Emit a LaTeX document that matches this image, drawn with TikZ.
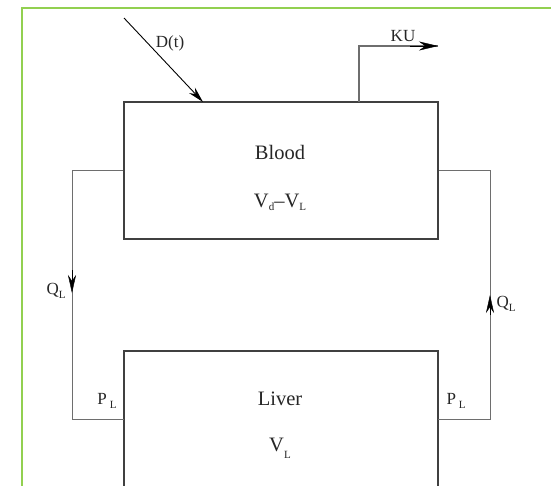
\documentclass[tikz,border=0pt]{standalone}
\usepackage{fontspec}
\setmainfont{Liberation Serif}
\usetikzlibrary{arrows.meta}
\newcommand\lowsub[2][0.5ex]{\raisebox{-#1}{\fontsize{11}{11}\selectfont #2}}
\definecolor{framegreen}{RGB}{146,208,80}
\definecolor{boxgray}{RGB}{64,64,64}
\definecolor{linegray}{RGB}{110,110,110}
\tikzset{
  compbox/.style={draw=boxgray, line width=1.5pt, rectangle, inner sep=0pt},
  boxtext/.style={font=\fontsize{20.5}{24}\selectfont, inner sep=0pt, text=black!85},
  lbl/.style={font=\fontsize{17}{20}\selectfont, inner sep=0pt, text=black!85},
  flow/.style={draw=linegray, line width=1pt},
  tip/.style={-{Stealth[length=17pt,width=8pt]}},
}
\begin{document}
\begin{tikzpicture}[x=1pt,y=-1pt]
\useasboundingbox (0,0) rectangle (551,485);
\clip (0,0) rectangle (551,485);
\fill[white] (0,0) rectangle (551,485);
\draw[framegreen, line width=2pt] (22,486) -- (22,8) -- (552,8);

% compartments
\node[compbox, minimum width=314pt, minimum height=137pt] (blood) at (281,170.5) {};
\node[compbox, minimum width=314pt, minimum height=200pt, anchor=north] (liver) at (281,350) {};

\node[boxtext] (bloodname) at (280,152) {Blood};
\node[boxtext] (bloodvol) at (280,202) {V\lowsub[0.3ex]{d}--V\lowsub[0.3ex]{L}};
\node[boxtext] (livername) at (280,399) {Liver};
\node[boxtext] (livervol) at (280,448) {V\lowsub[0.7ex]{L}};

% dose input
\coordinate (dstart) at (124,18);
\coordinate (dend) at (203,102);
\draw[black, line width=0.9pt, -{Stealth[length=16pt,width=8pt]}] (dstart) -- (dend);
\node[lbl] (dlbl) at (170,43) {D(t)};

% elimination
\coordinate (kustart) at (359,102);
\coordinate (kucorner) at (359,46);
\coordinate (kuend) at (438,46);
\draw[linegray, line width=1.3pt] (kustart) -- (kucorner) -- (kuend);
\draw[black, -{Stealth[length=19pt,width=9pt]}] (410,46) -- (kuend);
\node[lbl] (kulbl) at (403,36) {KU};

% left loop (blood -> liver)
\coordinate (lcorner1) at (72,170.5);
\coordinate (larrow) at (72,293);
\coordinate (lcorner2) at (72,419);
\coordinate (lend) at (124,419);
\draw[flow] (blood.west) -- (lcorner1) -- (lcorner2) -- (lend);
\draw[black, -{Stealth[length=18pt,width=8pt]}] (72,270) -- (larrow);
\node[lbl] (qlleft) at (56,291) {Q\lowsub[0.6ex]{L}};
\node[lbl] (plleft) at (107,401) {P\,\lowsub[0.6ex]{L}};

% right loop (liver -> blood)
\coordinate (rcorner1) at (490,170.5);
\coordinate (rarrow) at (490,295);
\coordinate (rcorner2) at (490,419);
\coordinate (rstart) at (438,419);
\draw[flow] (rstart) -- (rcorner2) -- (rcorner1) -- (blood.east);
\draw[black, -{Stealth[length=18pt,width=8pt]}] (490,315) -- (rarrow);
\node[lbl] (qlright) at (506,304) {Q\lowsub[0.6ex]{L}};
\node[lbl] (plright) at (456,401) {P\,\lowsub[0.6ex]{L}};
\end{tikzpicture}
\end{document}
